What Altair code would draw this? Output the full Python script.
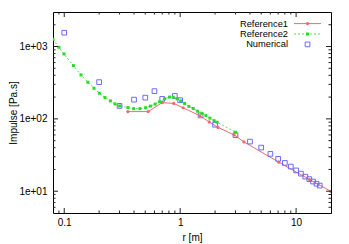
import altair as alt
import pandas as pd

# ---------------- data ----------------
ref1_r = [0.354, 0.53, 0.70, 0.88, 1.06, 1.48, 1.78, 2.12, 2.92, 3.55, 7.09, 13.06, 20.0]
ref1_imp = [126, 126, 167.6, 163.5, 142.5, 110.5, 90.7, 76.2, 60.0, 48.0, 25.2, 14.5, 9.95]

ref2_r = [0.08, 0.09, 0.0995, 0.12, 0.1395, 0.16, 0.1805, 0.201, 0.2246, 0.25, 0.274, 0.3007,
          0.3545, 0.397, 0.4498, 0.5038, 0.554, 0.608, 0.665, 0.734, 0.808, 0.87, 0.942, 1.009,
          1.092, 1.19, 1.296, 1.414, 1.54, 1.668, 1.805, 1.963, 2.083, 3.007]
ref2_imp = [1259, 976, 789, 544, 405, 321, 265, 226, 197, 177, 161, 151,
            143, 138.5, 138.5, 142.5, 150, 160, 172.5, 189, 200, 199.5, 190, 177,
            163.5, 148.5, 139, 127.5, 119, 111, 102.4, 94.3, 89.9, 65.4]

num_r = [0.1, 0.2, 0.3, 0.4, 0.5, 0.6, 0.7, 0.9, 1.0, 1.5, 2, 3, 4, 5, 6, 7, 8, 9, 10,
         11, 12, 13, 14, 15, 16]
num_imp = [1553, 322, 151, 184.5, 196.6, 241.7, 188.6, 207.5, 181, 111.6, 83, 59.6, 48.5,
           40.1, 32.8, 28.0, 24.6, 21.9, 19.4, 17.5, 15.9, 14.7, 13.6, 12.7, 11.96]

series_names = ["Reference1", "Reference2", "Numerical"]

x_tick_values = [0.1, 1, 10]
x_tick_labels = ["0.1", "1", "10"]
x_minor_values = [0.09, 0.2, 0.3, 0.4, 0.5, 0.6, 0.7, 0.8, 0.9,
                  2, 3, 4, 5, 6, 7, 8, 9]
y_tick_values = [10, 100, 1000]
y_tick_labels = ["1e+01", "1e+02", "1e+03"]
y_minor_values = [6, 7, 8, 9, 20, 30, 40, 50, 60, 70, 80, 90,
                  200, 300, 400, 500, 600, 700, 800, 900, 2000]

x_domain = [0.08, 20]
y_domain = [5, 3000]

# ---------------- styling ----------------
W, H = 278, 201
FONT = "Liberation Sans"
RED = "#f06a6a"
GREEN_PT = "#22dd22"
GREEN_LN = "#55e055"
BLUE = "#6a6aff"
MAJ, MIN = 5, 2.5


def label_expr(values, labels):
    expr = f"'{labels[-1]}'"
    for v, l in reversed(list(zip(values[:-1], labels[:-1]))):
        expr = f"datum.value == {v} ? '{l}' : " + expr
    return expr


xscale = alt.Scale(type="log", domain=x_domain, nice=False)
yscale = alt.Scale(type="log", domain=y_domain, nice=False)

xaxis = alt.Axis(values=x_tick_values, labelExpr=label_expr(x_tick_values, x_tick_labels),
                 ticks=False, tickSize=0, domain=False, grid=False, labelFlush=False,
                 labelFont=FONT, labelFontSize=10, labelColor="black", labelPadding=4,
                 labelOverlap=False, titleFont=FONT, titleFontSize=10,
                 titleFontWeight="normal", titleColor="black", titlePadding=5)
yaxis = alt.Axis(values=y_tick_values, labelExpr=label_expr(y_tick_values, y_tick_labels),
                 ticks=False, tickSize=0, domain=False, grid=False, labelFlush=False,
                 labelFont=FONT, labelFontSize=10, labelColor="black", labelPadding=6,
                 labelOverlap=False, titleFont=FONT, titleFontSize=10,
                 titleFontWeight="normal", titleColor="black", titlePadding=0)


def xenc(field):
    return alt.X(f"{field}:Q", scale=xscale, axis=xaxis, title="r [m]")


def yenc(field):
    return alt.Y(f"{field}:Q", scale=yscale, axis=yaxis, title="Impulse [Pa.s]")


df1 = pd.DataFrame({"r": ref1_r, "imp": ref1_imp})
df2 = pd.DataFrame({"r": ref2_r, "imp": ref2_imp})
dfn = pd.DataFrame({"r": num_r, "imp": num_imp})

red_line = alt.Chart(df1).mark_line(color=RED, strokeWidth=1, clip=True).encode(
    x=xenc("r"), y=yenc("imp"))
red_pts = alt.Chart(df1).mark_circle(color=RED, size=10, opacity=1, clip=True).encode(
    x=xenc("r"), y=yenc("imp"))
green_line = alt.Chart(df2).mark_line(color=GREEN_LN, strokeWidth=1, strokeDash=[2, 2],
                                      clip=True).encode(x=xenc("r"), y=yenc("imp"))
green_pts = alt.Chart(df2).mark_square(color=GREEN_PT, size=9, opacity=1, clip=True).encode(
    x=xenc("r"), y=yenc("imp"))
blue_pts = alt.Chart(dfn).mark_point(shape="square", color=BLUE, filled=False, size=22,
                                     strokeWidth=1, opacity=1, clip=True).encode(
    x=xenc("r"), y=yenc("imp"))

# ---------------- inward ticks on all four sides ----------------
dxM = pd.DataFrame({"v": x_tick_values})
dxm = pd.DataFrame({"v": x_minor_values})
dyM = pd.DataFrame({"v": y_tick_values})
dym = pd.DataFrame({"v": y_minor_values})

tick_layers = []
for d, ln in ((dxM, MAJ), (dxm, MIN)):
    tick_layers.append(alt.Chart(d).mark_rule(color="#222", strokeWidth=1).encode(
        x=xenc("v"), y=alt.value(H), y2=alt.value(H - ln)))
    tick_layers.append(alt.Chart(d).mark_rule(color="#222", strokeWidth=1).encode(
        x=xenc("v"), y=alt.value(0), y2=alt.value(ln)))
for d, ln in ((dyM, MAJ), (dym, MIN)):
    tick_layers.append(alt.Chart(d).mark_rule(color="#222", strokeWidth=1).encode(
        y=yenc("v"), x=alt.value(0), x2=alt.value(ln)))
    tick_layers.append(alt.Chart(d).mark_rule(color="#222", strokeWidth=1).encode(
        y=yenc("v"), x=alt.value(W), x2=alt.value(W - ln)))

# ---------------- legend (top right) ----------------
row_y = [11.6, 22.0, 32.4]
text_x = 235
s_x1, s_x2, s_mid = 241, 268, 254.5
legend_layers = []
for name, yy in zip(series_names, row_y):
    legend_layers.append(
        alt.Chart(pd.DataFrame({"name": [name]})).mark_text(
            align="right", baseline="middle", font=FONT, fontSize=9.3, color="black"
        ).encode(text="name:N", x=alt.value(text_x), y=alt.value(yy)))
ld = pd.DataFrame({"name": ["x"]})
legend_layers += [
    alt.Chart(ld).mark_rule(color=RED, strokeWidth=1).encode(
        x=alt.value(s_x1), x2=alt.value(s_x2), y=alt.value(row_y[0])),
    alt.Chart(ld).mark_circle(color=RED, size=10, opacity=1).encode(
        x=alt.value(s_mid), y=alt.value(row_y[0])),
    alt.Chart(ld).mark_rule(color=GREEN_LN, strokeWidth=1, strokeDash=[2, 2]).encode(
        x=alt.value(s_x1), x2=alt.value(s_x2), y=alt.value(row_y[1])),
    alt.Chart(ld).mark_square(color=GREEN_PT, size=9, opacity=1).encode(
        x=alt.value(s_mid), y=alt.value(row_y[1])),
    alt.Chart(ld).mark_point(shape="square", color=BLUE, filled=False, size=22,
                             strokeWidth=1, opacity=1).encode(
        x=alt.value(s_mid), y=alt.value(row_y[2])),
]

chart = alt.layer(
    red_line, green_line, blue_pts, red_pts, green_pts, *tick_layers, *legend_layers
).properties(
    width=W, height=H,
    padding={"left": 45, "top": 4, "right": 10, "bottom": 31},
    autosize=alt.AutoSizeParams(type="none"),
    background="white",
).configure_view(stroke="black", strokeWidth=1)

chart.save("out.html", embed_options={"renderer": "svg", "actions": False})
